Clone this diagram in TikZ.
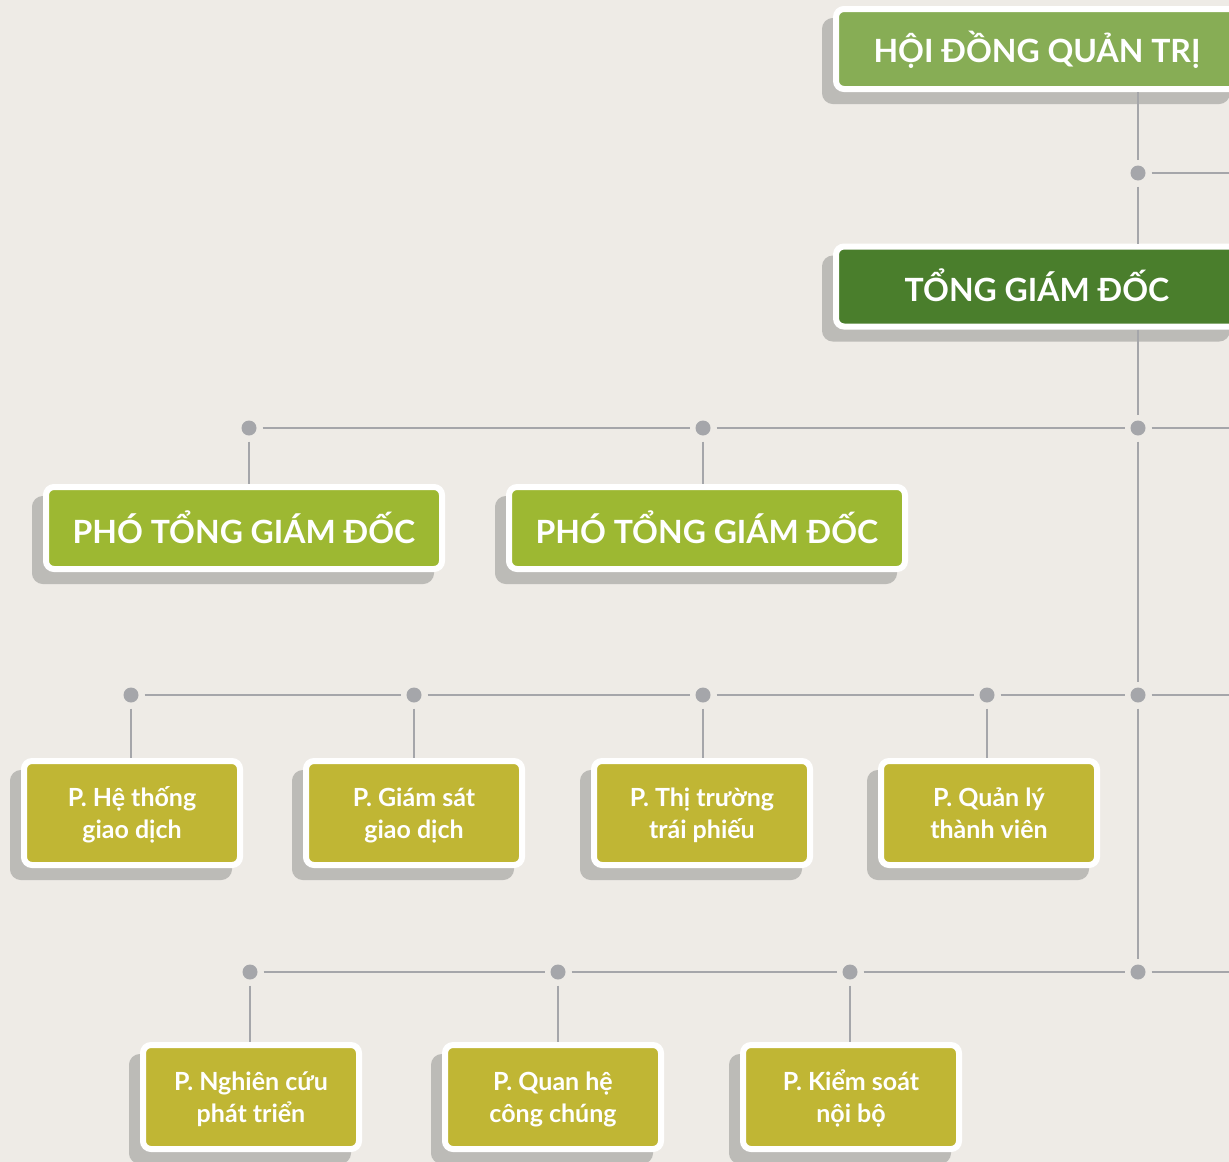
\documentclass[tikz,border=0pt]{standalone}
\usepackage{fontspec}
\setmainfont{Lato}
\usetikzlibrary{shadows}
\definecolor{bg}{HTML}{EEEBE6}
\definecolor{ln}{HTML}{A5A6AA}
\definecolor{shd}{HTML}{BCBBB7}
\definecolor{cA}{HTML}{87AD55}
\definecolor{cB}{HTML}{4A7E2C}
\definecolor{cC}{HTML}{9DB832}
\definecolor{cD}{HTML}{C0B634}
\newcommand{\topstrut}{\rule{0pt}{28pt}}
\newcommand{\botstrut}{\rule[-10pt]{0pt}{10pt}}
\begin{document}
\begin{tikzpicture}[x=1pt,y=-1pt,
  box/.style={draw=white, line width=6pt, rounded corners=8pt, text=white,
    align=center, inner sep=0pt,
    general shadow={fill=shd, draw=shd, line width=6pt, shadow xshift=-11pt, shadow yshift=-12pt}},
  bigbox/.style={box, minimum width=402pt, minimum height=80pt,
    font=\bfseries\fontsize{32}{36}\selectfont, text height=30pt, text depth=0pt},
  vpbox/.style={box, fill=cC, minimum width=396pt, minimum height=82pt,
    font=\bfseries\fontsize{32}{36}\selectfont, text height=31pt, text depth=0pt},
  dept/.style={box, fill=cD, minimum width=216pt, minimum height=104pt,
    font=\bfseries\fontsize{25}{32}\selectfont},
  jdot/.style={circle, fill=ln, minimum size=15pt, inner sep=0pt, outer sep=6pt},
  conn/.style={draw=ln, line width=2.6pt}
]
\fill[bg] (0,0) rectangle (1229,1162);
\useasboundingbox (0,0) rectangle (1229,1162);

% boxes
\node[bigbox, fill=cA, text height=27pt] (hdqt) at (1037,49) {HỘI ĐỒNG QUẢN TRỊ};
\node[bigbox, fill=cB] (tgd) at (1037,286.5) {TỔNG GIÁM ĐỐC};
\node[vpbox] (pt1) at (244,528) {PHÓ TỔNG GIÁM ĐỐC};
\node[vpbox] (pt2) at (707,528) {PHÓ TỔNG GIÁM ĐỐC};

\node[dept] (b1) at (132,813) {\topstrut P. Hệ thống\\\botstrut giao dịch};
\node[dept] (b2) at (414,813) {\topstrut P. Giám sát\\\botstrut giao dịch};
\node[dept] (b3) at (702,813) {\topstrut P. Thị trường\\\botstrut trái phiếu};
\node[dept] (b4) at (989,813) {\topstrut P. Quản lý\\\botstrut thành viên};

\node[dept] (c1) at (251,1097) {\topstrut P. Nghiên cứu\\\botstrut phát triển};
\node[dept] (c2) at (553,1097) {\topstrut P. Quan hệ\\\botstrut công chúng};
\node[dept] (c3) at (851,1097) {\topstrut P. Kiểm soát\\\botstrut nội bộ};

% junction dots
\node[jdot] (d0) at (1138,173) {};
\node[jdot] (dA) at (1138,428) {};
\node[jdot] (dB) at (1138,695) {};
\node[jdot] (dC) at (1138,972) {};
\node[jdot] (p1) at (249,428) {};
\node[jdot] (p2) at (703,428) {};
\node[jdot] (r1) at (131,695) {};
\node[jdot] (r2) at (414,695) {};
\node[jdot] (r3) at (703,695) {};
\node[jdot] (r4) at (987,695) {};
\node[jdot] (s1) at (250,972) {};
\node[jdot] (s2) at (558,972) {};
\node[jdot] (s3) at (850,972) {};

\coordinate (e0) at (1240,173);
\coordinate (eA) at (1240,428);
\coordinate (eB) at (1240,695);
\coordinate (eC) at (1240,972);

% trunk
\draw[conn] (hdqt.south -| d0) -- (d0);
\draw[conn] (d0) -- (tgd.north -| d0);
\draw[conn] (d0) -- (e0);
\draw[conn] (tgd.south -| dA) -- (dA);
\draw[conn] (dA) -- (dB);
\draw[conn] (dB) -- (dC);

% row of deputies
\draw[conn] (p1) -- (p2);
\draw[conn] (p2) -- (dA);
\draw[conn] (dA) -- (eA);
\draw[conn] (p1) -- (p1 |- pt1.north);
\draw[conn] (p2) -- (p2 |- pt2.north);

% first row of departments
\draw[conn] (r1) -- (r2);
\draw[conn] (r2) -- (r3);
\draw[conn] (r3) -- (r4);
\draw[conn] (r4) -- (dB);
\draw[conn] (dB) -- (eB);
\draw[conn] (r1) -- (r1 |- b1.north);
\draw[conn] (r2) -- (r2 |- b2.north);
\draw[conn] (r3) -- (r3 |- b3.north);
\draw[conn] (r4) -- (r4 |- b4.north);

% second row of departments
\draw[conn] (s1) -- (s2);
\draw[conn] (s2) -- (s3);
\draw[conn] (s3) -- (dC);
\draw[conn] (dC) -- (eC);
\draw[conn] (s1) -- (s1 |- c1.north);
\draw[conn] (s2) -- (s2 |- c2.north);
\draw[conn] (s3) -- (s3 |- c3.north);
\end{tikzpicture}
\end{document}
